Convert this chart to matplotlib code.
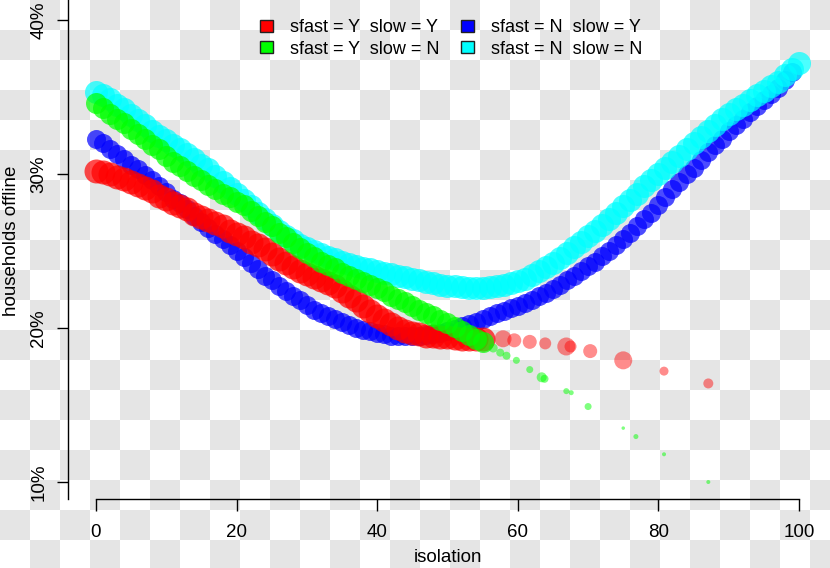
import numpy as np
import matplotlib
matplotlib.use("Agg")
import matplotlib.pyplot as plt
from matplotlib.patches import Patch

plt.rcParams['font.family'] = ['Liberation Sans', 'DejaVu Sans']

# isolation (x) vs households offline (%), 1 step of isolation
red_x = np.arange(0, 56)
red_y = [30.2, 30.1, 30.0, 29.8, 29.7, 29.5, 29.3, 29.1, 28.9, 28.6,
         28.4, 28.1, 27.9, 27.7, 27.4, 27.2, 27.0, 26.8, 26.6, 26.3,
         26.1, 25.9, 25.6, 25.4, 25.1, 24.8, 24.5, 24.2, 23.95, 23.7,
         23.5, 23.3, 23.1, 22.9, 22.7, 22.4, 22.1, 21.8, 21.4, 21.1,
         20.8, 20.5, 20.25, 20.0, 19.8, 19.7, 19.6, 19.5, 19.45, 19.4,
         19.4, 19.35, 19.3, 19.3, 19.3, 19.3]
red_tail_x = [57.9, 59.5, 61.7, 63.9, 66.9, 67.5, 70.3, 75.0, 80.8, 87.1]
red_tail_y = [19.3, 19.2, 19.1, 19.0, 18.8, 18.8, 18.5, 17.9, 17.2, 16.4]
red_tail_d = [17, 14, 14, 12, 18, 12, 14, 18, 9, 10]

green_x = np.arange(0, 56)
green_y = [34.6, 34.3, 33.9, 33.6, 33.3, 32.9, 32.6, 32.3, 31.9, 31.6,
           31.2, 30.8, 30.5, 30.2, 29.9, 29.6, 29.3, 29.0, 28.7, 28.5,
           28.2, 28.0, 27.6, 27.3, 26.9, 26.6, 26.2, 25.9, 25.5, 25.2,
           24.9, 24.6, 24.3, 24.1, 23.9, 23.6, 23.4, 23.2, 23.0, 22.8,
           22.6, 22.4, 22.1, 21.9, 21.7, 21.45, 21.2, 21.0, 20.8, 20.5,
           20.3, 20.05, 19.8, 19.55, 19.3, 19.1]
green_tail_x = [56.5, 57.5, 58.4, 59.8, 61.7, 63.4, 63.8, 66.9, 67.6, 70.0, 75.0, 76.8, 80.8, 87.1]
green_tail_y = [18.7, 18.4, 18.2, 17.9, 17.3, 16.8, 16.7, 15.9, 15.8, 14.9, 13.5, 12.95, 11.8, 10.0]
green_tail_d = [9, 8, 8, 7, 7, 10, 8, 6, 5, 7, 3.5, 5, 4, 4]

blue_x = np.arange(0, 100)
blue_y = [32.3, 32.0, 31.6, 31.3, 31.0, 30.6, 30.3, 29.95, 29.6, 29.2,
          28.8, 28.4, 28.1, 27.7, 27.3, 26.9, 26.5, 26.1, 25.8, 25.4,
          25.0, 24.6, 24.2, 23.8, 23.4, 23.1, 22.7, 22.4, 22.1, 21.8,
          21.5, 21.2, 21.0, 20.8, 20.6, 20.4, 20.2, 20.0, 19.9, 19.8,
          19.7, 19.6, 19.5, 19.5, 19.45, 19.45, 19.5, 19.55, 19.6, 19.7,
          19.8, 19.95, 20.1, 20.25, 20.4, 20.6, 20.75, 20.95, 21.1, 21.3,
          21.45, 21.6, 21.8, 22.05, 22.3, 22.55, 22.8, 23.1, 23.4, 23.7,
          24.0, 24.3, 24.7, 25.0, 25.4, 25.8, 26.2, 26.6, 27.1, 27.5,
          28.0, 28.5, 29.0, 29.5, 30.0, 30.4, 30.9, 31.4, 31.9, 32.3,
          32.8, 33.2, 33.6, 34.0, 34.4, 34.8, 35.2, 35.6, 36.1, 36.6]

cyan_x = np.arange(0, 101)
cyan_y = [35.3, 35.1, 34.9, 34.5, 34.2, 33.8, 33.5, 33.2, 32.8, 32.5,
          32.2, 31.9, 31.6, 31.3, 31.0, 30.6, 30.3, 29.9, 29.5, 29.1,
          28.7, 28.3, 27.9, 27.5, 27.1, 26.7, 26.3, 26.0, 25.7, 25.4,
          25.2, 25.0, 24.8, 24.6, 24.45, 24.3, 24.15, 24.0, 23.9, 23.8,
          23.7, 23.6, 23.5, 23.4, 23.3, 23.2, 23.1, 23.0, 22.9, 22.8,
          22.75, 22.7, 22.65, 22.6, 22.6, 22.6, 22.65, 22.7, 22.8, 22.9,
          23.05, 23.2, 23.45, 23.7, 23.95, 24.25, 24.55, 24.9, 25.25, 25.6,
          25.95, 26.3, 26.7, 27.1, 27.5, 27.9, 28.3, 28.7, 29.2, 29.6,
          30.0, 30.4, 30.8, 31.2, 31.6, 32.0, 32.4, 32.8, 33.2, 33.6,
          33.9, 34.2, 34.5, 34.8, 35.1, 35.4, 35.7, 36.0, 36.4, 36.8,
          37.2]

labels = ['sfast = Y  slow = Y', 'sfast = Y  slow = N',
          'sfast = N  slow = Y', 'sfast = N  slow = N']
colors = ['#ff0000', '#00ff00', '#0000ff', '#00ffff']
yticks = [10, 20, 30, 40]
xticks = [0, 20, 40, 60, 80, 100]


def area(d):
    # marker diameter in pixels -> scatter size (pt^2) at 100 dpi
    return (np.asarray(d, dtype=float) * 0.72) ** 2


W, H = 830, 568
fig = plt.figure(figsize=(W / 100, H / 100), dpi=100)

# checkerboard "transparent" background
yy, xx = np.mgrid[0:H, 0:W]
board = np.where(((xx // 30) + (yy // 30)) % 2 == 1, 0.9, 1.0)
fig.figimage(np.dstack([board] * 3), 0, 0, origin='upper', zorder=-10)

ax = fig.add_axes([68 / W, 69 / H, 762 / W, 499 / H])
ax.set_facecolor('none')
ax.set_xlim(-3.98, 104.41)
ax.set_ylim(8.896, 41.3)

kw = dict(alpha=0.7, linewidths=0)
ax.scatter(blue_x, blue_y, s=area(19), color=colors[2], zorder=1, **kw)
ax.scatter(cyan_x, cyan_y, s=area(23), color=colors[3], zorder=2, **kw)
ax.scatter(red_x, red_y, s=area(24), color=colors[0], zorder=3, **kw)
ax.scatter(red_tail_x, red_tail_y, s=area(red_tail_d), color=colors[0], zorder=3,
           alpha=0.45, linewidths=0)
ax.scatter(green_x, green_y, s=area(21), color=colors[1], zorder=4, **kw)
ax.scatter(green_tail_x, green_tail_y, s=area(green_tail_d), color=colors[1], zorder=4,
           alpha=0.5, linewidths=0)

for side in ['top', 'right']:
    ax.spines[side].set_visible(False)
ax.spines['bottom'].set_bounds(0, 100)
ax.spines['left'].set_linewidth(1.0)
ax.spines['bottom'].set_linewidth(1.0)

fs = 13.5
ax.set_xticks(xticks)
ax.set_xticklabels([str(t) for t in xticks], fontsize=fs)
ax.set_yticks(yticks)
ax.set_yticklabels(['%d%%' % t for t in yticks], fontsize=fs, rotation=90, va='center')
ax.tick_params(axis='x', length=8.6, width=1.0, pad=9.5)
ax.tick_params(axis='y', length=7.9, width=1.0, pad=7)

ax.set_xlabel('isolation', fontsize=fs, va='center')
ax.xaxis.set_label_coords((448 - 68) / 762, (499 - 558) / 499)
ax.set_ylabel('households offline', fontsize=fs, va='center')
ax.yaxis.set_label_coords((12 - 68) / 762, (499 - 241) / 499)

handles = [Patch(facecolor=c, edgecolor='#222222', linewidth=1.0) for c in colors]
ax.legend(handles, labels, ncol=2, frameon=False, fontsize=13,
          loc='upper left', bbox_to_anchor=(260 / W, 1 - 19 / H),
          bbox_transform=fig.transFigure, borderpad=0, borderaxespad=0,
          handlelength=0.72, handleheight=0.66, handletextpad=0.94,
          columnspacing=1.18, labelspacing=0.25)

fig.savefig('out.png', dpi=100)
